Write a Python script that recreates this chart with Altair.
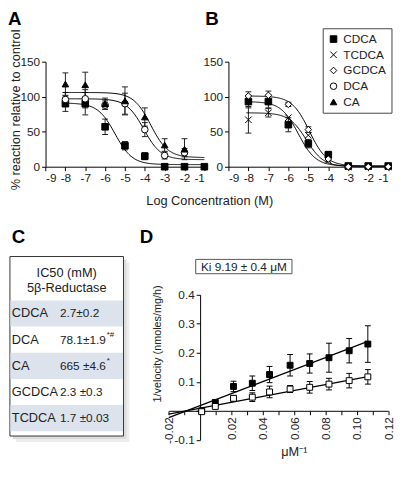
import altair as alt
import pandas as pd

FONT = "Liberation Sans"
INK = "#222222"

# ---------------- data ----------------
series_order = ["CDCA", "TCDCA", "GCDCA", "DCA", "CA"]
series_shapes = ["square", "M-1,-1L1,1M-1,1L1,-1", "diamond", "circle", "triangle-up"]
series_fills = ["black", "white", "white", "white", "black"]

log_ticks = [-9, -8, -7, -6, -5, -4, -3, -2, -1]
log_conc = [-8, -7, -6, -5, -4, -3, -2, -1]

# Panel A
a_cdca = [90, 90, 57, 30, 15, 0, 0, 0]
a_cdca_err = [11, 16, 11, 6, 5, 0, 0, 0]
a_dca = [96, 97, 88, 90, 53, 16, 20]
a_dca_err = [10, 13, 6, 15, 10, 5, 6]
a_ca = [118, 117, 90, 94, 71, 31, 25]
a_ca_err = [16, 18, 8, 20, 13, 9, 15]

a_fit_series = ["CDCA", "DCA", "CA"]
a_fit_top = [91, 97, 106]
a_fit_bottom = [3, 10, 13]
a_fit_logic50 = [-5.5, -4.05, -3.7]

# Panel B
b_cdca = [93, 93, 60, 33, 17, 1, 1, 1]
b_cdca_err = [9, 9, 10, 6, 5, 0, 0, 0]
b_tcdca = [67, 77, 70, 45, 9, 0, 0, 0]
b_tcdca_err = [19, 6, 0, 0, 0, 0, 0, 0]
b_gcdca = [101, 102, 89, 53, 11, 0, 0, 0]
b_gcdca_err = [6, 6, 3, 4, 3, 0, 0, 0]

b_fit_series = ["CDCA", "TCDCA", "GCDCA"]
b_fit_top = [93, 77, 101]
b_fit_bottom = [1, 0, 1]
b_fit_logic50 = [-5.5, -5.1, -4.95]

fit_start, fit_end, fit_step = -8.1, -1.0, 0.05

# Panel C
c_title = ["IC50 (mM)", "5\u03b2-Reductase"]
c_names = ["CDCA", "DCA", "CA", "GCDCA", "TCDCA"]
c_values = ["2.7\u00b10.2", "78.1\u00b11.9", "665 \u00b14.6", "2.3 \u00b10.3", "1.7 \u00b10.03"]
c_marks = ["", "*#", "*", "", ""]
c_shaded = [True, False, True, False, True]

# Panel D
d_inv_s = [0.001, 0.0097, 0.0213, 0.0333, 0.0443, 0.0574, 0.0699, 0.0822, 0.0951, 0.107]
d_with = [0.0, 0.029, 0.084, 0.095, 0.125, 0.157, 0.163, 0.183, 0.207, 0.230]
d_with_err = [0, 0.008, 0.018, 0.025, 0.028, 0.037, 0.033, 0.05, 0.042, 0.063]
d_without = [-0.003, 0.015, 0.043, 0.047, 0.065, 0.075, 0.081, 0.092, 0.104, 0.117]
d_without_err = [0, 0.005, 0.01, 0.015, 0.02, 0.012, 0.02, 0.02, 0.025, 0.025]
d_groups = ["with", "without"]
d_fit_slope = [2.07, 1.02]
d_fit_intercept = [0.0178, 0.0088]
d_fit_range = [-0.02, 0.107]
d_x_ticks = [-0.02, -0.01, 0.01, 0.02, 0.03, 0.04, 0.05, 0.06, 0.07, 0.08, 0.09, 0.10, 0.11, 0.12]
d_y_ticks = [-0.1, 0.0, 0.1, 0.2, 0.3, 0.4]
ki_label = "Ki 9.19 \u00b1 0.4 \u03bcM"

one = pd.DataFrame({"k": [0]})
MINUS = "replace(datum.label, '\u2212', '-')"

# ---------------- layout (pixels) ----------------
KX, KY = 0.98, 0.972
W_LEFT = 198.0
W_RIGHT = round(KX * 166, 2)
H_TOP = round(KY * 110, 2)
H_BOTTOM = round(KY * 192, 2)
COL_GAP = round(KX * 227 - W_LEFT, 2)
ROW_GAP = round(KY * 204 - H_TOP, 2)
PAD_L, PAD_T = 1.96, round(KY * 52, 2)
SVG_W, SVG_H = 394.0, 455.0
D_TOP = round(KY * 40, 2)
D_Y0 = H_BOTTOM - 0.2 * (H_BOTTOM - D_TOP)


def points(x, pairs):
    rows = []
    for name, ys, es in pairs:
        for xi, yi, ei in zip(x, ys, es):
            rows.append({"x": xi, "y": yi, "err": ei, "series": name})
    return pd.DataFrame(rows)


def letter(ch, x, y):
    return alt.Chart(one).mark_text(
        text=ch, font=FONT, fontSize=19, fontWeight="bold", align="left",
        baseline="alphabetic", color="black"
    ).encode(x=alt.value(x), y=alt.value(y))


def dose_panel(pts, fit_series, top, bottom, ic50, width, xrange, xaxis, yaxis, legend, ch, chx):
    xs = alt.Scale(domain=[-9, -1], range=xrange, nice=False, zero=False)
    ys = alt.Scale(domain=[0, 150], nice=False, zero=False)
    X = alt.X("x:Q", scale=xs, axis=xaxis)
    Y = alt.Y("y:Q", scale=ys, axis=yaxis)
    base = alt.Chart(pts)
    err = base.transform_filter("datum.err > 0").transform_calculate(
        lo="datum.y - datum.err", hi="datum.y + datum.err")
    rule = err.mark_rule(color=INK, strokeWidth=1).encode(
        x=X, y=alt.Y("lo:Q", scale=ys, axis=yaxis), y2="hi:Q")
    cap_lo = err.mark_tick(orient="horizontal", size=6, thickness=1, color=INK, opacity=1).encode(
        x=X, y=alt.Y("lo:Q", scale=ys, axis=yaxis))
    cap_hi = err.mark_tick(orient="horizontal", size=6, thickness=1, color=INK, opacity=1).encode(
        x=X, y=alt.Y("hi:Q", scale=ys, axis=yaxis))
    fit_df = pd.DataFrame({"series": fit_series, "top": top, "bottom": bottom, "ic50": ic50})
    n = int(round((fit_end - fit_start) / fit_step)) + 1
    grid = pd.DataFrame({"x": [round(fit_start + fit_step * i, 3) for i in range(n)]})
    curve_df = grid.merge(fit_df, how="cross")
    curves = alt.Chart(curve_df).transform_calculate(
        y="datum.bottom + (datum.top - datum.bottom) / (1 + pow(10, datum.x - datum.ic50))"
    ).mark_line(color="black", strokeWidth=1).encode(x=X, y=Y, detail="series:N")
    marks = base.mark_point(filled=True, size=45, strokeWidth=1, opacity=1).encode(
        x=X, y=Y,
        shape=alt.Shape("series:N", scale=alt.Scale(domain=series_order, range=series_shapes), legend=legend),
        fill=alt.Fill("series:N", scale=alt.Scale(domain=series_order, range=series_fills), legend=legend),
        stroke=alt.Stroke("series:N", scale=alt.Scale(domain=series_order, range=["black"] * 5), legend=legend),
    )
    return alt.layer(rule, cap_lo, cap_hi, curves, marks, letter(ch, chx, round(KY * -38, 2))).properties(
        width=width, height=H_TOP)


tick_axis = dict(grid=False, tickSize=4, labelFontSize=12, labelPadding=2,
                 domainColor="black", tickColor="black", labelColor=INK)

# ---- Panel A ----
a_pts = points(log_conc, [("CDCA", a_cdca, a_cdca_err), ("DCA", a_dca, a_dca_err), ("CA", a_ca, a_ca_err)])
a_xaxis = alt.Axis(values=log_ticks, format="d", labelExpr=MINUS, title="Log Concentration (M)",
                   titleX=202.9, titleY=round(KY * 35, 2), titleBaseline="middle", titleAlign="center",
                   titleFontSize=13, titleFontWeight="normal", titleColor=INK, **tick_axis)
a_yaxis = alt.Axis(values=[0, 50, 100, 150], offset=-36.26, title="% reaction relative to control",
                   titleX=-31.0, titleY=round(KY * 50, 2), titleAngle=270, titleAlign="center",
                   titleBaseline="middle", titleFontSize=13, titleFontWeight="normal", titleColor=INK,
                   **tick_axis)
panel_a = dose_panel(a_pts, a_fit_series, a_fit_top, a_fit_bottom, a_fit_logic50,
                     W_LEFT, [36.26, 197.96], a_xaxis, a_yaxis, None, "A", -1.96)

# ---- Panel B ----
b_pts = points(log_conc, [("CDCA", b_cdca, b_cdca_err), ("TCDCA", b_tcdca, b_tcdca_err),
                          ("GCDCA", b_gcdca, b_gcdca_err)])
b_xaxis = alt.Axis(values=log_ticks, format="d", labelExpr=MINUS, title=None, **tick_axis)
b_yaxis = alt.Axis(values=[0, 50, 100, 150], title=None, **tick_axis)
b_legend = alt.Legend(orient="none", legendX=96.0, legendY=round(KY * -35, 2), title=None,
                      strokeColor="#444", fillColor="white", padding=5, rowPadding=4, labelFontSize=12,
                      labelFont=FONT, labelColor=INK, symbolSize=45, symbolStrokeColor="black",
                      symbolStrokeWidth=1, labelOffset=4)
panel_b = dose_panel(b_pts, b_fit_series, b_fit_top, b_fit_bottom, b_fit_logic50,
                     W_RIGHT, [0, W_RIGHT], b_xaxis, b_yaxis, b_legend, "B", -23.5)

# ---- Panel C (table) ----
c_df = pd.DataFrame({"name": c_names, "value": c_values, "sup": c_marks, "shade": c_shaded})
CY = alt.Y("name:N", sort=c_names, axis=None,
           scale=alt.Scale(domain=c_names, range=[round(KY * 46, 2), round(KY * 183, 2)],
                           paddingInner=0, paddingOuter=0))
BOX_W, BOX_H = 115.6, round(KY * 188, 2)
shadow1 = alt.Chart(one).mark_rect(fill="#ededed").encode(
    x=alt.value(6), x2=alt.value(BOX_W + 6), y=alt.value(6), y2=alt.value(BOX_H + 6))
shadow2 = alt.Chart(one).mark_rect(fill="#dcdcdc").encode(
    x=alt.value(3), x2=alt.value(BOX_W + 3), y=alt.value(3), y2=alt.value(BOX_H + 3))
box = alt.Chart(one).mark_rect(fill="white", stroke="#333", strokeWidth=1).encode(
    x=alt.value(0), x2=alt.value(BOX_W), y=alt.value(0), y2=alt.value(BOX_H))
shade = alt.Chart(c_df).transform_filter("datum.shade").mark_rect(fill="#dde3ec").encode(
    y=CY, x=alt.value(0.5), x2=alt.value(BOX_W - 0.5))
head1 = alt.Chart(one).mark_text(text=c_title[0], font=FONT, fontSize=13, color=INK, align="center",
                                 baseline="middle").encode(x=alt.value(57.8), y=alt.value(round(KY * 17, 2)))
head2 = alt.Chart(one).mark_text(text=c_title[1], font=FONT, fontSize=13, color=INK, align="center",
                                 baseline="middle").encode(x=alt.value(57.8), y=alt.value(round(KY * 33, 2)))
names = alt.Chart(c_df).mark_text(font=FONT, fontSize=13, color=INK, align="left", baseline="middle").encode(
    y=CY, x=alt.value(1.96), text="name:N")
vals = alt.Chart(c_df).mark_text(font=FONT, fontSize=12, color=INK, align="left", baseline="middle").encode(
    y=CY, x=alt.value(51.0), text="value:N")
sup_dca = alt.Chart(c_df).transform_filter("datum.name == 'DCA'").mark_text(
    font=FONT, fontSize=8, color=INK, align="left", baseline="middle", dy=-5).encode(
    y=CY, x=alt.value(98.5), text="sup:N")
sup_ca = alt.Chart(c_df).transform_filter("datum.name == 'CA'").mark_text(
    font=FONT, fontSize=8, color=INK, align="left", baseline="middle", dy=-5).encode(
    y=CY, x=alt.value(98.5), text="sup:N")
panel_c = alt.layer(shadow1, shadow2, box, shade, head1, head2, names, vals, sup_dca, sup_ca,
                    letter("C", 1.96, round(KY * -14, 2))).properties(width=W_LEFT, height=H_BOTTOM)

# ---- Panel D ----
d_rows = []
for g, ys_, es in [("with", d_with, d_with_err), ("without", d_without, d_without_err)]:
    for xi, yi, ei in zip(d_inv_s, ys_, es):
        d_rows.append({"x": xi, "y": yi, "err": ei, "group": g})
d_pts = pd.DataFrame(d_rows)
d_fit = pd.DataFrame({"group": d_groups, "slope": d_fit_slope, "intercept": d_fit_intercept}).merge(
    pd.DataFrame({"x": d_fit_range}), how="cross")

d_xaxis = alt.Axis(values=d_x_ticks, format=".2f", labelAngle=270, offset=-round(H_BOTTOM - D_Y0, 2),
                   labelExpr="(abs(round(datum.value*100)) % 2 == 0) ? " + MINUS + " : ''",
                   title="\u03bcM\u207b\u00b9", titleX=66.6, titleY=round(KY * 42.4, 2), titleBaseline="middle",
                   titleAlign="center", titleFontSize=13, titleFontWeight="normal", titleColor=INK,
                   **tick_axis)
d_yaxis = alt.Axis(values=d_y_ticks, format=".1f", offset=28.84,
                   labelExpr="datum.value == 0 ? '' : " + MINUS,
                   title="1/velocity (nmoles/mg/h)", titleX=-43.7, titleY=round(KY * 91, 2), titleAngle=270,
                   titleAlign="center", titleBaseline="middle", titleFontSize=11,
                   titleFontWeight="normal", titleColor=INK, **tick_axis)
XS = alt.Scale(domain=[-0.02, 0.12], range=[-60.76, W_RIGHT], nice=False, zero=False)
YS = alt.Scale(domain=[-0.1, 0.4], range=[H_BOTTOM, D_TOP], nice=False, zero=False)
XD = alt.X("x:Q", scale=XS, axis=d_xaxis)
YD = alt.Y("y:Q", scale=YS, axis=d_yaxis)
d_err = alt.Chart(d_pts).transform_filter("datum.err > 0").transform_calculate(
    lo="datum.y - datum.err", hi="datum.y + datum.err")
d_rule = d_err.mark_rule(color="black", strokeWidth=1).encode(
    x=XD, y=alt.Y("lo:Q", scale=YS, axis=d_yaxis), y2="hi:Q")
d_cap_lo = d_err.mark_tick(orient="horizontal", size=6, thickness=1, color="black", opacity=1).encode(
    x=XD, y=alt.Y("lo:Q", scale=YS, axis=d_yaxis))
d_cap_hi = d_err.mark_tick(orient="horizontal", size=6, thickness=1, color="black", opacity=1).encode(
    x=XD, y=alt.Y("hi:Q", scale=YS, axis=d_yaxis))
d_lines = alt.Chart(d_fit).transform_calculate(y="datum.intercept + datum.slope * datum.x").mark_line(
    color="black", strokeWidth=1.2).encode(x=XD, y=YD, detail="group:N")
d_marks = alt.Chart(d_pts).mark_point(shape="square", filled=True, size=36, stroke="black",
                                      strokeWidth=1, opacity=1).encode(
    x=XD, y=YD,
    fill=alt.Fill("group:N", scale=alt.Scale(domain=d_groups, range=["black", "white"]), legend=None))
ki_box = alt.Chart(one).mark_rect(fill="white", stroke="#555", strokeWidth=1).encode(
    x=alt.value(-33.3), x2=alt.value(64.7), y=alt.value(round(KY * 3, 2)), y2=alt.value(round(KY * 18, 2)))
ki_text = alt.Chart(one).mark_text(text=ki_label, font=FONT, fontSize=12, color=INK, align="center",
                                   baseline="middle").encode(x=alt.value(15.7), y=alt.value(round(KY * 10.6, 2)))
panel_d = alt.layer(d_rule, d_cap_lo, d_cap_hi, d_lines, d_marks, ki_box, ki_text,
                    letter("D", -90.2, round(KY * -14, 2))).properties(width=W_RIGHT, height=H_BOTTOM)

chart = alt.concat(
    panel_a, panel_b, panel_c, panel_d, columns=2,
    spacing={"row": ROW_GAP, "column": COL_GAP}, bounds="flush"
).resolve_scale(shape="independent", fill="independent", stroke="independent",
                x="independent", y="independent").properties(
    autosize=alt.AutoSizeParams(type="none"),
    padding={"left": PAD_L, "top": PAD_T, "right": SVG_W - PAD_L, "bottom": SVG_H - PAD_T}
).configure_view(stroke=None).configure_axis(labelFont=FONT, titleFont=FONT).configure_text(font=FONT)

chart.save("out.html", embed_options={"renderer": "svg", "actions": False})
